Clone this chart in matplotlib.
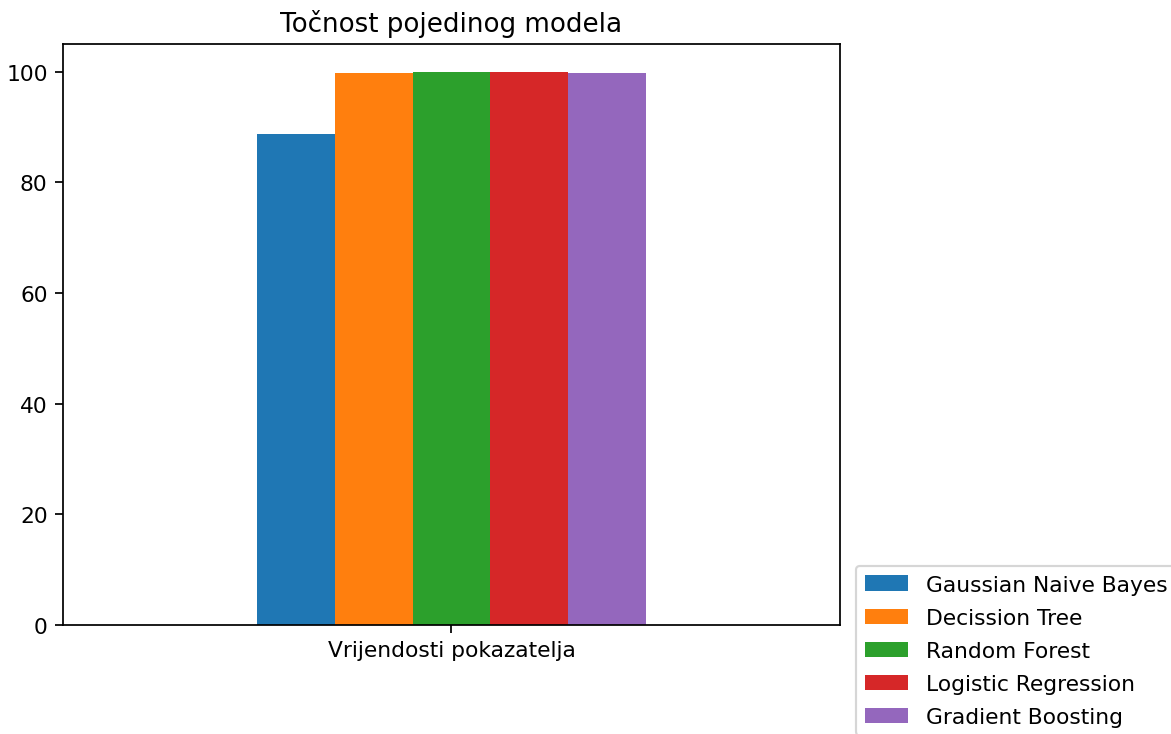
import matplotlib
matplotlib.use("Agg")
import matplotlib.pyplot as plt
import pandas as pd

# accuracy of each model (%)
models = ["Gaussian Naive Bayes", "Decission Tree", "Random Forest",
          "Logistic Regression", "Gradient Boosting"]
accuracy = [88.7, 99.8, 100.0, 100.0, 99.8]
index_label = ["Vrijendosti pokazatelja"]

df = pd.DataFrame([accuracy], columns=models, index=index_label)

dpi = 157
fig = plt.figure(figsize=(1171 / dpi, 735 / dpi), dpi=dpi)
ax = fig.add_axes([63 / 1171, 1 - 626 / 735, 777 / 1171, 581 / 735])

df.plot(kind="bar", ax=ax, rot=0, legend=False)
ax.set_title("Točnost pojedinog modela")

ax.legend(loc="upper left", bbox_to_anchor=(856 / 1171, 1 - 567 / 735),
          bbox_transform=fig.transFigure, borderaxespad=0,
          labelspacing=0.6)

fig.savefig("out.png", dpi=dpi)
